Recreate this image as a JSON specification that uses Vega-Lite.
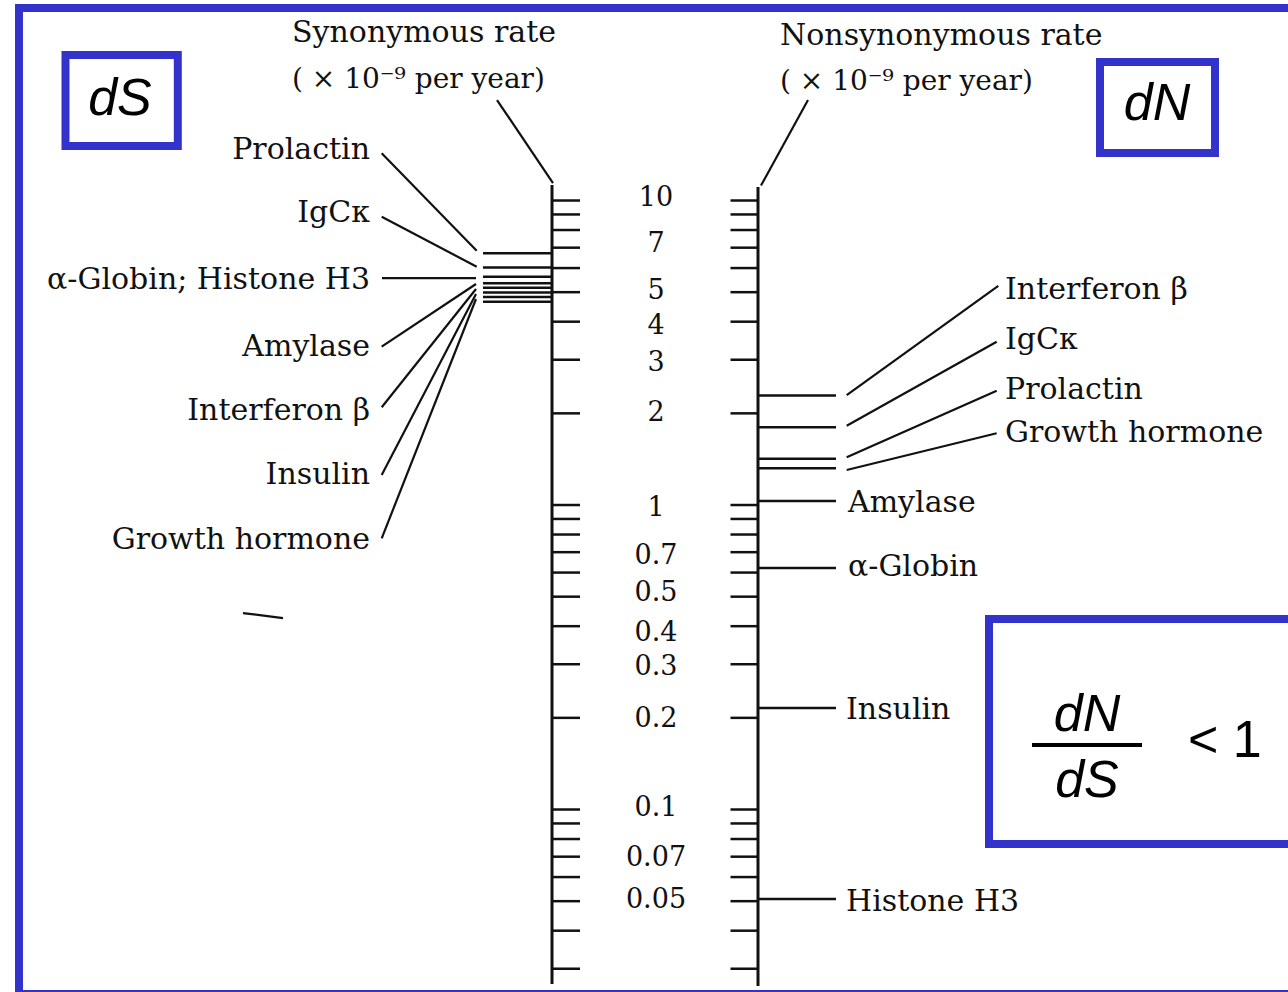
{
  "$schema": "https://vega.github.io/schema/vega-lite/v6.json",
  "width": 1288,
  "height": 992,
  "autosize": "none",
  "padding": 0,
  "background": "white",
  "config": {"view": {"stroke": null}},
  "datasets": {
    "boxes": [
      {"name": "frame", "x": 19, "x2": 1300, "y": 42.87, "y2": 0.02477},
      {"name": "dS", "x": 65.5, "x2": 177.8, "y": 30.05, "y2": 15.10},
      {"name": "dN", "x": 1100, "x2": 1215, "y": 28.50, "y2": 14.32},
      {"name": "ratio", "x": 989, "x2": 1300, "y": 0.4222, "y2": 0.07703}
    ],
    "axes": [
      {"axis": "synonymous", "x": 552, "top": 11.24, "bottom": 0.02673},
      {"axis": "nonsynonymous", "x": 758, "top": 11.07, "bottom": 0.02633}
    ],
    "ticks": [
      {"v": 10}, {"v": 9}, {"v": 8}, {"v": 7}, {"v": 6}, {"v": 5}, {"v": 4}, {"v": 3}, {"v": 2},
      {"v": 1}, {"v": 0.9}, {"v": 0.8}, {"v": 0.7}, {"v": 0.6}, {"v": 0.5}, {"v": 0.4}, {"v": 0.3}, {"v": 0.2},
      {"v": 0.1}, {"v": 0.09}, {"v": 0.08}, {"v": 0.07}, {"v": 0.06}, {"v": 0.05}, {"v": 0.04}, {"v": 0.03}
    ],
    "ticklabels": [
      {"label": "10", "v": 10, "pos": 10.19}, {"label": "7", "v": 7, "pos": 7.196}, {"label": "5", "v": 5, "pos": 5.045},
      {"label": "4", "v": 4, "pos": 3.870}, {"label": "3", "v": 3, "pos": 2.927}, {"label": "2", "v": 2, "pos": 2.005},
      {"label": "1", "v": 1, "pos": 0.9776}, {"label": "0.7", "v": 0.7, "pos": 0.6803}, {"label": "0.5", "v": 0.5, "pos": 0.5140},
      {"label": "0.4", "v": 0.4, "pos": 0.3798}, {"label": "0.3", "v": 0.3, "pos": 0.2938}, {"label": "0.2", "v": 0.2, "pos": 0.1982},
      {"label": "0.1", "v": 0.1, "pos": 0.1011}, {"label": "0.07", "v": 0.07, "pos": 0.06929}, {"label": "0.05", "v": 0.05, "pos": 0.05044}
    ],
    "genes": [
      {"gene": "Prolactin", "dS": 6.71, "dN": 1.42},
      {"gene": "IgCκ", "dS": 6.03, "dN": 1.80},
      {"gene": "α-Globin", "dS": 5.62, "dN": 0.621},
      {"gene": "Histone H3", "dS": 5.35, "dN": 0.0508},
      {"gene": "Amylase", "dS": 5.17, "dN": 1.03},
      {"gene": "Interferon β", "dS": 4.99, "dN": 2.29},
      {"gene": "Insulin", "dS": 4.82, "dN": 0.2154},
      {"gene": "Growth hormone", "dS": 4.65, "dN": 1.32}
    ],
    "leaders": [
      {"id": "syn header", "x": 497, "y": 21.38, "x2": 553, "y2": 11.41},
      {"id": "nonsyn header", "x": 808, "y": 21.38, "x2": 761, "y2": 11.2},
      {"id": "L Prolactin", "x": 381.7, "y": 14.29, "x2": 476.7, "y2": 6.841},
      {"id": "L IgC", "x": 381.7, "y": 8.846, "x2": 476.7, "y2": 6.061},
      {"id": "L Globin", "x": 382, "y": 5.56, "x2": 476, "y2": 5.56},
      {"id": "L Amylase", "x": 381.7, "y": 3.311, "x2": 476, "y2": 5.318},
      {"id": "L Interferon", "x": 381.7, "y": 2.094, "x2": 476, "y2": 5.122},
      {"id": "L Insulin", "x": 381.7, "y": 1.254, "x2": 476, "y2": 4.932},
      {"id": "L Growth", "x": 381.7, "y": 0.7773, "x2": 476, "y2": 4.748},
      {"id": "R Interferon", "x": 846.7, "y": 2.297, "x2": 998.3, "y2": 5.240},
      {"id": "R IgC", "x": 846.7, "y": 1.821, "x2": 996.7, "y2": 3.438},
      {"id": "R Prolactin", "x": 846.7, "y": 1.434, "x2": 996.7, "y2": 2.373},
      {"id": "R Growth", "x": 846.7, "y": 1.303, "x2": 996.7, "y2": 1.720},
      {"id": "stray", "x": 243, "y": 0.4418, "x2": 283, "y2": 0.4254}
    ],
    "labelsLeft": [
      {"text": "Prolactin", "x": 370, "y": 14.65},
      {"text": "IgCκ", "x": 370, "y": 9.097},
      {"text": "α-Globin; Histone H3", "x": 370, "y": 5.482},
      {"text": "Amylase", "x": 370, "y": 3.303},
      {"text": "Interferon β", "x": 370, "y": 2.035},
      {"text": "Insulin", "x": 370, "y": 1.254},
      {"text": "Growth hormone", "x": 370, "y": 0.7673}
    ],
    "labelsRight": [
      {"text": "Synonymous rate", "x": 292, "y": 35.49},
      {"text": "Nonsynonymous rate", "x": 780, "y": 34.69},
      {"text": "Interferon β", "x": 1005, "y": 5.083},
      {"text": "IgCκ", "x": 1005, "y": 3.482},
      {"text": "Prolactin", "x": 1005, "y": 2.387},
      {"text": "Growth hormone", "x": 1005, "y": 1.724},
      {"text": "Amylase", "x": 848, "y": 1.015},
      {"text": "α-Globin", "x": 848, "y": 0.6257},
      {"text": "Insulin", "x": 846, "y": 0.2122},
      {"text": "Histone H3", "x": 846, "y": 0.04969}
    ],
    "units": [
      {"text": "( × 10⁻⁹ per year)", "x": 292, "y": 24.87},
      {"text": "( × 10⁻⁹ per year)", "x": 780, "y": 24.50}
    ],
    "symbols": [
      {"text": "dS", "x": 120, "y": 21.54},
      {"text": "dN", "x": 1157, "y": 20.75},
      {"text": "dN", "x": 1087, "y": 0.2043},
      {"text": "dS", "x": 1087, "y": 0.1241}
    ]
  },
  "layer": [
    {
      "data": {"name": "boxes"},
      "mark": {"type": "rect", "fill": "white", "stroke": "#3333cc", "strokeWidth": 8},
      "encoding": {
        "x": {"field": "x", "type": "quantitative", "scale": {"domain": [0, 1288], "nice": false, "zero": false}, "axis": null},
        "x2": {"field": "x2"},
        "y": {"field": "y", "type": "quantitative", "scale": {"type": "log", "domain": [0.02516, 45.55], "nice": false}, "axis": null},
        "y2": {"field": "y2"}
      }
    },
    {
      "data": {"values": [{"part": "fraction bar"}]},
      "mark": {"type": "rule", "color": "black", "strokeWidth": 4},
      "encoding": {
        "x": {"datum": 1032, "type": "quantitative", "axis": null},
        "x2": {"datum": 1142},
        "y": {"datum": 0.1628, "type": "quantitative", "axis": null}
      }
    },
    {
      "data": {"name": "axes"},
      "mark": {"type": "rule", "color": "#111", "strokeWidth": 3},
      "encoding": {
        "x": {"field": "x", "type": "quantitative", "axis": null},
        "y": {"field": "top", "type": "quantitative", "axis": null},
        "y2": {"field": "bottom"}
      }
    },
    {
      "data": {"name": "ticks"},
      "mark": {"type": "tick", "orient": "horizontal", "color": "#111", "opacity": 1, "size": 28, "thickness": 2.5},
      "encoding": {
        "x": {"datum": 566, "type": "quantitative", "axis": null},
        "y": {"field": "v", "type": "quantitative", "axis": null}
      }
    },
    {
      "data": {"name": "ticks"},
      "mark": {"type": "tick", "orient": "horizontal", "color": "#111", "opacity": 1, "size": 28, "thickness": 2.5},
      "encoding": {
        "x": {"datum": 744.5, "type": "quantitative", "axis": null},
        "y": {"field": "v", "type": "quantitative", "axis": null}
      }
    },
    {
      "data": {"name": "genes"},
      "mark": {"type": "rule", "color": "#111", "strokeWidth": 2.5},
      "encoding": {
        "x": {"datum": 483, "type": "quantitative", "axis": null},
        "x2": {"datum": 553},
        "y": {"field": "dS", "type": "quantitative", "axis": null}
      }
    },
    {
      "data": {"name": "genes"},
      "mark": {"type": "rule", "color": "#111", "strokeWidth": 2.5},
      "encoding": {
        "x": {"datum": 758, "type": "quantitative", "axis": null},
        "x2": {"datum": 836},
        "y": {"field": "dN", "type": "quantitative", "axis": null}
      }
    },
    {
      "data": {"name": "leaders"},
      "mark": {"type": "rule", "color": "#111", "strokeWidth": 2.2},
      "encoding": {
        "x": {"field": "x", "type": "quantitative", "axis": null},
        "x2": {"field": "x2"},
        "y": {"field": "y", "type": "quantitative", "axis": null},
        "y2": {"field": "y2"}
      }
    },
    {
      "data": {"name": "ticklabels"},
      "mark": {"type": "text", "font": "DejaVu Serif", "fontSize": 27, "color": "#111", "align": "center", "baseline": "middle"},
      "encoding": {
        "x": {"datum": 656, "type": "quantitative", "axis": null},
        "y": {"field": "pos", "type": "quantitative", "axis": null},
        "text": {"field": "label"}
      }
    },
    {
      "data": {"name": "labelsLeft"},
      "mark": {"type": "text", "font": "DejaVu Serif", "fontSize": 30, "color": "#111", "align": "right", "baseline": "middle"},
      "encoding": {
        "x": {"field": "x", "type": "quantitative", "axis": null},
        "y": {"field": "y", "type": "quantitative", "axis": null},
        "text": {"field": "text"}
      }
    },
    {
      "data": {"name": "labelsRight"},
      "mark": {"type": "text", "font": "DejaVu Serif", "fontSize": 30, "color": "#111", "align": "left", "baseline": "middle"},
      "encoding": {
        "x": {"field": "x", "type": "quantitative", "axis": null},
        "y": {"field": "y", "type": "quantitative", "axis": null},
        "text": {"field": "text"}
      }
    },
    {
      "data": {"name": "units"},
      "mark": {"type": "text", "font": "DejaVu Serif", "fontSize": 28, "color": "#111", "align": "left", "baseline": "middle"},
      "encoding": {
        "x": {"field": "x", "type": "quantitative", "axis": null},
        "y": {"field": "y", "type": "quantitative", "axis": null},
        "text": {"field": "text"}
      }
    },
    {
      "data": {"name": "symbols"},
      "mark": {"type": "text", "font": "Liberation Sans", "fontStyle": "italic", "fontSize": 52, "color": "black", "align": "center", "baseline": "middle"},
      "encoding": {
        "x": {"field": "x", "type": "quantitative", "axis": null},
        "y": {"field": "y", "type": "quantitative", "axis": null},
        "text": {"field": "text"}
      }
    },
    {
      "data": {"values": [{"text": "< 1", "x": 1188, "y": 0.1679}]},
      "mark": {"type": "text", "font": "Liberation Sans", "fontSize": 52, "color": "black", "align": "left", "baseline": "middle"},
      "encoding": {
        "x": {"field": "x", "type": "quantitative", "axis": null},
        "y": {"field": "y", "type": "quantitative", "axis": null},
        "text": {"field": "text"}
      }
    }
  ]
}
